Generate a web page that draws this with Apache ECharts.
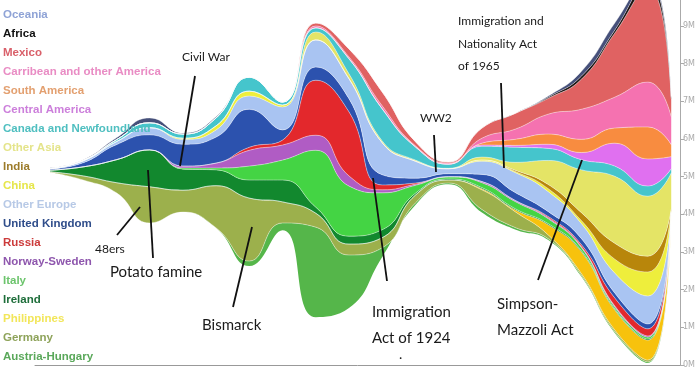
<!DOCTYPE html>
<html>
<head>
<meta charset="utf-8">
<script src="https://cdn.jsdelivr.net/npm/echarts@6/dist/echarts.min.js"></script>
<style>
  html, body { margin: 0; padding: 0; background: #fff; }
  #chart { width: 700px; height: 375px; }
</style>
</head>
<body>
<div id="chart"></div>
<script>
// decades (last point is the short, unfinished decade)
const years = [1820, 1830, 1840, 1850, 1860, 1870, 1880, 1890, 1900, 1910, 1920, 1930, 1940, 1950, 1960, 1970, 1980, 1990, 2000, 2007];

// lower edge of the stream, millions
const baseline = [5.12, 4.91, 4.57, 3.77, 4.06, 3.64, 2.63, 3.58, 1.27, 1.51, 2.87, 4.25, 4.8, 4.05, 3.6, 3.32, 2.34, 0.85, 0.05, 4.04];

// immigrants per decade, millions (stacked bottom to top)
const austriaHungary = [0, 0, 0, 0, 0, 0, 0.13, 0.19, 2.39, 1.41, 0.24, 0.05, 0.03, 0.08, 0.05, 0.03, 0.03, 0.03, 0.03, 0];
const germany        = [0.01, 0.11, 0.27, 0.96, 0.58, 1.12, 1.67, 0.56, 0.37, 0.29, 0.27, 0.21, 0.08, 0.52, 0.42, 0.1, 0.05, 0.05, 0.05, 0];
const philippines    = [0, 0, 0, 0, 0, 0, 0, 0, 0, 0, 0, 0, 0, 0.03, 0.05, 0.27, 0.58, 0.53, 0.53, 0.01];
const ireland        = [0.04, 0.24, 0.61, 0.98, 0.56, 0.42, 0.48, 0.58, 0.16, 0.21, 0.21, 0.05, 0.03, 0.03, 0.03, 0.03, 0.03, 0.03, 0.03, 0];
const italy          = [0, 0, 0, 0, 0.03, 0.05, 0.37, 0.53, 1.51, 1.33, 0.98, 0.21, 0.05, 0.13, 0.19, 0.13, 0.08, 0.05, 0.05, 0];
const norwaySweden   = [0, 0, 0, 0, 0.05, 0.13, 0.42, 0.40, 0.40, 0.27, 0.08, 0.03, 0.01, 0.03, 0.03, 0.03, 0.03, 0.03, 0.03, 0];
const russia         = [0, 0, 0, 0, 0, 0, 0.08, 0.13, 1.46, 1.70, 0.13, 0.03, 0, 0, 0, 0.03, 0.05, 0.21, 0.19, 0];
const unitedKingdom  = [0.03, 0.11, 0.40, 0.40, 0.58, 0.69, 1.01, 0.27, 0.35, 0.35, 0.27, 0.13, 0.08, 0.19, 0.21, 0.13, 0.16, 0.13, 0.13, 0];
const otherEurope    = [0.01, 0.05, 0.08, 0.19, 0.13, 0.19, 0.35, 0.61, 0.72, 0.53, 0.85, 0.45, 0.13, 0.35, 0.53, 0.53, 0.40, 0.53, 0.74, 0.03];
const china          = [0, 0, 0, 0, 0.03, 0.11, 0.13, 0.05, 0, 0, 0, 0, 0, 0.03, 0.03, 0.08, 0.08, 0.37, 0.64, 0.03];
const india          = [0, 0, 0, 0, 0, 0, 0, 0, 0, 0, 0, 0, 0, 0, 0.03, 0.11, 0.21, 0.42, 0.42, 0.03];
const otherAsia      = [0, 0, 0, 0, 0, 0, 0, 0, 0.21, 0.13, 0.05, 0.03, 0.01, 0.08, 0.21, 0.64, 1.14, 1.78, 1.59, 0.96];
const canada         = [0.01, 0.01, 0.05, 0.13, 0.11, 0.21, 0.37, 0.08, 0.11, 0.40, 0.85, 0.35, 0.11, 0.29, 0.40, 0.32, 0.27, 0.27, 0.27, 0.11];
const centralAmerica = [0, 0, 0, 0, 0, 0, 0, 0, 0, 0, 0, 0, 0, 0.03, 0.05, 0.11, 0.19, 0.61, 0.72, 0.32];
const southAmerica   = [0, 0, 0, 0, 0, 0, 0, 0, 0, 0, 0, 0, 0, 0.05, 0.16, 0.27, 0.35, 0.40, 0.85, 0.32];
const caribbean      = [0, 0, 0, 0, 0, 0, 0, 0, 0.05, 0.05, 0.08, 0.03, 0.03, 0.13, 0.27, 0.53, 0.80, 0.82, 1.19, 0.74];
const mexico         = [0, 0, 0, 0, 0, 0, 0, 0, 0.08, 0.21, 0.37, 0.11, 0.03, 0.27, 0.42, 0.42, 0.80, 1.70, 2.52, 0.48];
const africa         = [0, 0, 0, 0, 0, 0, 0, 0, 0, 0, 0, 0, 0, 0, 0, 0.03, 0.08, 0.08, 0.21, 0.03];
const oceania        = [0.01, 0.01, 0.05, 0.13, 0.03, 0.03, 0, 0, 0, 0, 0, 0, 0, 0, 0, 0.03, 0.13, 0.19, 0.08, 0.03];

const yTicks = [0, 1, 2, 3, 4, 5, 6, 7, 8, 9];

// stack order, bottom first: [name, values, fill, legend text colour]
const layers = [
  ['Austria-Hungary', austriaHungary, '#55b64a', '#5aa85a'],
  ['Germany', germany, '#9cb04c', '#8ea35a'],
  ['Philippines', philippines, '#f7c20d', '#f2e65a'],
  ['Ireland', ireland, '#12882e', '#1e6e3a'],
  ['Italy', italy, '#44d444', '#6cc46c'],
  ['Norway-Sweden', norwaySweden, '#b05cc4', '#8e56ad'],
  ['Russia', russia, '#e3282c', '#cc3b3b'],
  ['United Kingdom', unitedKingdom, '#2c52ae', '#2f4d8a'],
  ['Other Europe', otherEurope, '#a9c4f2', '#b7c9e6'],
  ['China', china, '#eeee3c', '#e6e64a'],
  ['India', india, '#b8860b', '#9c7b2a'],
  ['Other Asia', otherAsia, '#e4e466', '#e4e48a'],
  ['Canada and Newfoundland', canada, '#45c5cc', '#4fbfc0'],
  ['Central America', centralAmerica, '#e070f0', '#cc7fdb'],
  ['South America', southAmerica, '#f88c40', '#e3a070'],
  ['Carribean and other America', caribbean, '#f572b0', '#e98cc4'],
  ['Mexico', mexico, '#e06262', '#d9606a'],
  ['Africa', africa, '#1e1412', '#111111'],
  ['Oceania', oceania, '#46507a', '#8fa3d6']
];

// year -> timestamp (time axis keeps the stack on the y values)
const yr = v => Date.UTC(1970, 0, 1) + (v - 1970) * 365.25 * 86400000;
const pairs = arr => years.map((y, i) => [yr(y), arr[i]]);

const series = [{
  name: 'base',
  type: 'line',
  stack: 'all',
  data: pairs(baseline),
  smooth: 0.5,
  symbol: 'none',
  silent: true,
  lineStyle: { opacity: 0 }
}];
layers.forEach(l => {
  series.push({
    name: l[0],
    type: 'line',
    stack: 'all',
    data: pairs(l[1]),
    smooth: 0.5,
    symbol: 'none',
    color: l[2],
    lineStyle: { color: 'rgba(255,255,255,0.5)', width: 0.8 },
    areaStyle: { color: l[2], opacity: 1 }
  });
});

// annotation labels and pointer lines, drawn over the stream
const txt = (x, y, text, size, lh) => ({
  type: 'text', x: x, y: y, z: 100, silent: true,
  style: { text: text, fontFamily: 'Lato, "Open Sans", sans-serif', fontSize: size, fill: '#1a1a1a', lineHeight: lh || size + 4 }
});
const ptr = (x1, y1, x2, y2) => ({
  type: 'line', z: 100, silent: true,
  shape: { x1: x1, y1: y1, x2: x2, y2: y2 },
  style: { stroke: '#111', lineWidth: 1.8 }
});

const chart = echarts.init(document.getElementById('chart'));
chart.setOption({
  animation: false,
  backgroundColor: '#fff',
  grid: { left: 35, right: 20, top: 0, bottom: 10 },
  xAxis: {
    type: 'time',
    min: yr(1815.48),
    max: yr(2009.64),
    offset: 8,
    axisLine: { show: true, lineStyle: { color: '#999', width: 1 } },
    axisTick: { show: false },
    axisLabel: { show: false },
    splitLine: { show: false }
  },
  yAxis: {
    type: 'value',
    position: 'right',
    min: 0,
    max: 9.69,
    axisLine: { show: true, lineStyle: { color: '#aaa' } },
    axisTick: { show: true, length: 4, customValues: yTicks, lineStyle: { color: '#aaa' } },
    axisLabel: { customValues: yTicks, formatter: v => v + 'M', color: '#aaa', fontSize: 8, margin: 3, fontFamily: 'DejaVu Sans' },
    splitLine: { show: false }
  },
  legend: {
    orient: 'vertical',
    left: -7,
    top: 3,
    icon: 'none',
    itemWidth: 0,
    itemHeight: 14,
    itemGap: 5,
    selectedMode: false,
    textStyle: { fontFamily: '"Liberation Sans", Arial, sans-serif', fontWeight: 'bold', fontSize: 11.5, lineHeight: 14 },
    data: layers.slice().reverse().map(l => ({ name: l[0], textStyle: { color: l[3] } }))
  },
  tooltip: { show: false },
  series: series,
  graphic: [
    txt(182, 49, 'Civil War', 12),
    ptr(195, 76, 180, 166),
    txt(95, 241, '48ers', 12),
    ptr(117, 235, 140, 207),
    txt(110, 263, 'Potato famine', 15),
    ptr(148, 170, 153, 258),
    txt(202, 316, 'Bismarck', 15),
    ptr(252, 227, 233, 307),
    txt(372, 299, 'Immigration\nAct of 1924', 15, 26),
    ptr(373, 178, 387, 281),
    txt(399, 345, '.', 14),
    txt(420, 110, 'WW2', 12),
    ptr(434, 135, 436, 172),
    txt(458, 10, 'Immigration and\nNationality Act\nof 1965', 12, 22.5),
    ptr(501, 83, 504, 168),
    txt(497, 291, 'Simpson-\nMazzoli Act', 15, 26),
    ptr(582, 160, 538, 280)
  ]
});
</script>
</body>
</html>
